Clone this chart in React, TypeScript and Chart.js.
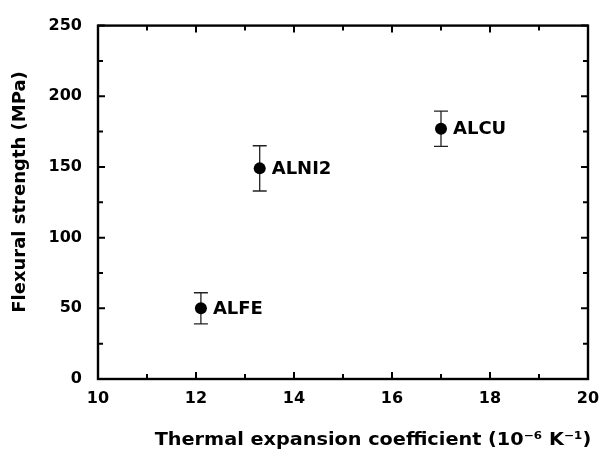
import React, { useEffect, useRef } from 'react';
import { Chart, registerables } from 'chart.js';

Chart.register(...registerables);

// ---- data ----
const sampleNames = ['ALFE', 'ALNI2', 'ALCU'];
const expansionCoeff = [12.1, 13.3, 17.0];
const flexuralStrength = [50, 149, 177];
const strengthError = [11, 16, 12.5];

const xTickValues = [10, 12, 14, 16, 18, 20];
const xMinorTickValues = [11, 13, 15, 17, 19];
const yTickValues = [0, 50, 100, 150, 200, 250];
const yMinorTickValues = [25, 75, 125, 175, 225];

const xTitle = 'Thermal expansion coefficient (10\u207B\u2076 K\u207B\u00B9)';
const yTitle = 'Flexural strength (MPa)';

const FONT = "'DejaVu Sans', sans-serif";

const decorPlugin = {
  id: 'decor',
  beforeDatasetsDraw(chart: any) {
    const { ctx } = chart;
    const xs = chart.scales.x;
    const ys = chart.scales.y;
    ctx.save();
    ctx.strokeStyle = '#222';
    ctx.lineWidth = 1.3;
    for (let i = 0; i < expansionCoeff.length; i++) {
      const px = xs.getPixelForValue(expansionCoeff[i]);
      const top = ys.getPixelForValue(flexuralStrength[i] + strengthError[i]);
      const bot = ys.getPixelForValue(flexuralStrength[i] - strengthError[i]);
      ctx.beginPath();
      ctx.moveTo(px, top);
      ctx.lineTo(px, bot);
      ctx.moveTo(px - 7, top);
      ctx.lineTo(px + 7, top);
      ctx.moveTo(px - 7, bot);
      ctx.lineTo(px + 7, bot);
      ctx.stroke();
    }
    ctx.restore();
  },
  afterDraw(chart: any) {
    const { ctx, chartArea } = chart;
    const xs = chart.scales.x;
    const ys = chart.scales.y;
    const { left, right, top, bottom } = chartArea;
    ctx.save();
    // frame
    ctx.strokeStyle = '#000';
    ctx.lineWidth = 2.4;
    ctx.strokeRect(left, top, right - left, bottom - top);
    // inward ticks
    ctx.lineWidth = 2;
    ctx.beginPath();
    const xt = (v: number, len: number) => {
      const p = xs.getPixelForValue(v);
      ctx.moveTo(p, bottom);
      ctx.lineTo(p, bottom - len);
      ctx.moveTo(p, top);
      ctx.lineTo(p, top + len);
    };
    const yt = (v: number, len: number) => {
      const p = ys.getPixelForValue(v);
      ctx.moveTo(left, p);
      ctx.lineTo(left + len, p);
      ctx.moveTo(right, p);
      ctx.lineTo(right - len, p);
    };
    xTickValues.forEach((v) => xt(v, 7));
    xMinorTickValues.forEach((v) => xt(v, 5));
    yTickValues.forEach((v) => yt(v, 7));
    yMinorTickValues.forEach((v) => yt(v, 5));
    ctx.stroke();

    // point labels
    ctx.fillStyle = '#000';
    ctx.font = `bold 18px ${FONT}`;
    ctx.textAlign = 'left';
    ctx.textBaseline = 'middle';
    for (let i = 0; i < sampleNames.length; i++) {
      const px = xs.getPixelForValue(expansionCoeff[i]);
      const py = ys.getPixelForValue(flexuralStrength[i]);
      ctx.fillText(sampleNames[i], px + 12, py + 1);
    }

    // axis titles
    ctx.font = `bold 18px ${FONT}`;
    ctx.textAlign = 'center';
    ctx.textBaseline = 'middle';
    ctx.save();
    ctx.translate(373, 440);
    ctx.scale(1.07, 1);
    ctx.fillText(xTitle, 0, 0);
    ctx.restore();

    ctx.save();
    ctx.translate(20, 192);
    ctx.rotate(-Math.PI / 2);
    ctx.fillText(yTitle, 0, 0);
    ctx.restore();

    ctx.restore();
  },
};

export default function App() {
  const canvasRef = useRef<HTMLCanvasElement | null>(null);

  useEffect(() => {
    document.body.style.margin = '0';
    const canvas = canvasRef.current;
    if (!canvas) return;
    const chart = new Chart(canvas, {
      type: 'scatter',
      data: {
        datasets: [
          {
            data: expansionCoeff.map((x, i) => ({ x, y: flexuralStrength[i] })),
            backgroundColor: '#000',
            borderColor: '#000',
            pointRadius: 6,
            pointHoverRadius: 6,
            borderWidth: 0,
          },
        ],
      },
      options: {
        responsive: false,
        animation: false,
        devicePixelRatio: 1,
        layout: { padding: { top: 16, right: 27, left: 0, bottom: 0 } },
        plugins: {
          legend: { display: false },
          tooltip: { enabled: false },
        },
        scales: {
          x: {
            type: 'linear',
            min: 10,
            max: 20,
            afterBuildTicks: (s: any) => {
              s.ticks = xTickValues.map((v) => ({ value: v }));
            },
            afterFit: (s: any) => {
              s.height = 79;
            },
            grid: { display: false, drawTicks: false },
            border: { display: false },
            ticks: {
              color: '#000',
              padding: 10,
              maxRotation: 0,
              font: { family: FONT, size: 16, weight: 'bold' },
            },
          },
          y: {
            type: 'linear',
            min: 0,
            max: 250,
            afterBuildTicks: (s: any) => {
              s.ticks = yTickValues.map((v) => ({ value: v }));
            },
            afterFit: (s: any) => {
              s.width = 98;
            },
            grid: { display: false, drawTicks: false },
            border: { display: false },
            ticks: {
              color: '#000',
              padding: 16,
              font: { family: FONT, size: 16, weight: 'bold' },
            },
          },
        },
      },
      plugins: [decorPlugin],
    });
    return () => chart.destroy();
  }, []);

  return (
    <div style={{ width: 615, height: 458, background: '#fff' }}>
      <canvas ref={canvasRef} width={615} height={458} style={{ display: 'block' }} />
    </div>
  );
}
